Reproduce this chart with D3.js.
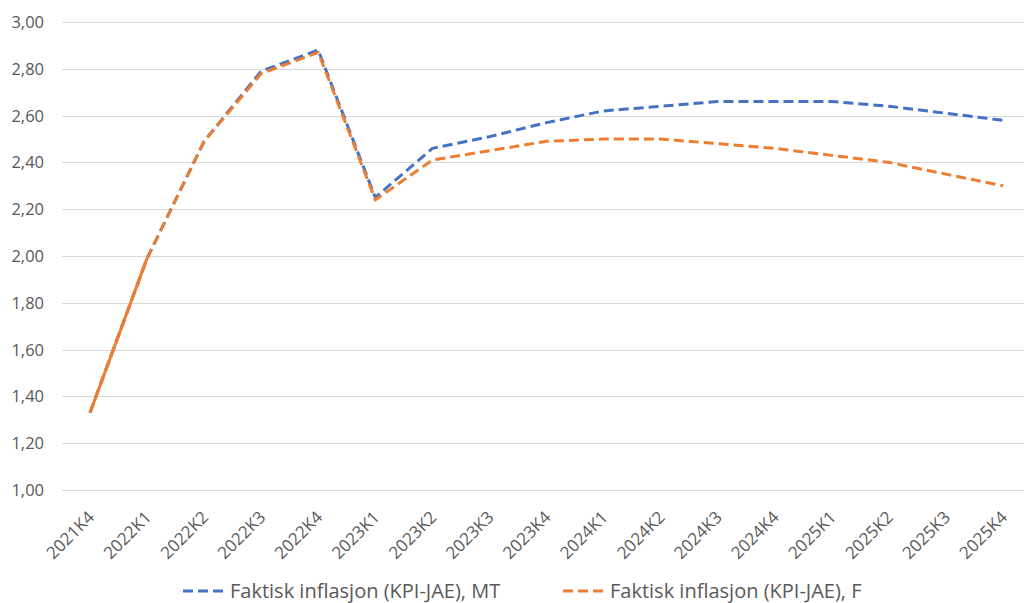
<!DOCTYPE html>
<html>
<head>
<meta charset="utf-8">
<script src="https://cdn.jsdelivr.net/npm/d3@7"></script>
<style>
  body { margin: 0; background: #fff; }
  text { font-family: "Open Sans", sans-serif; fill: #595959; }
</style>
</head>
<body>
<div id="chart"></div>
<script>
const quarters = ["2021K4", "2022K1", "2022K2", "2022K3", "2022K4", "2023K1", "2023K2", "2023K3", "2023K4",
    "2024K1", "2024K2", "2024K3", "2024K4", "2025K1", "2025K2", "2025K3", "2025K4"];
const seriesMT = [1.33, 1.99, 2.49, 2.79, 2.88, 2.25, 2.46, 2.51, 2.57, 2.62, 2.64, 2.66, 2.66, 2.66, 2.64, 2.61, 2.58];
const seriesF = [1.33, 1.99, 2.49, 2.78, 2.87, 2.24, 2.41, 2.45, 2.49, 2.50, 2.50, 2.48, 2.46, 2.43, 2.40, 2.35, 2.30];
const yTicks = [1.0, 1.2, 1.4, 1.6, 1.8, 2.0, 2.2, 2.4, 2.6, 2.8, 3.0];
const legendNames = ["Faktisk inflasjon (KPI-JAE), MT", "Faktisk inflasjon (KPI-JAE), F"];
const colors = ["#4472C4", "#ED7D31"];

const width = 1024, height = 603;
const svg = d3.select("#chart").append("svg")
    .attr("width", width)
    .attr("height", height);

const x = d3.scalePoint()
    .domain(quarters)
    .range([90, 1003]);

const y = d3.scaleLinear()
    .domain([1, 3])
    .range([490, 22]);

const fmt = d => d.toFixed(2).replace(".", ",");

// gridlines
svg.append("g")
    .selectAll("line")
    .data(yTicks)
    .enter().append("line")
    .attr("x1", 62)
    .attr("x2", 1031)
    .attr("y1", d => Math.round(y(d)) + 0.5)
    .attr("y2", d => Math.round(y(d)) + 0.5)
    .attr("stroke", "#d9d9d9")
    .attr("stroke-width", 1);

// y labels
svg.append("g")
    .selectAll("text")
    .data(yTicks)
    .enter().append("text")
    .attr("x", 44)
    .attr("y", d => y(d))
    .attr("dy", "0.36em")
    .attr("text-anchor", "end")
    .style("font-size", "16.5px")
    .text(fmt);

// x labels
svg.append("g")
    .selectAll("text")
    .data(quarters)
    .enter().append("text")
    .attr("transform", d => `translate(${x(d) + 1},${514}) rotate(-45)`)
    .attr("text-anchor", "end")
    .attr("dy", "0.36em")
    .style("font-size", "17px")
    .text(d => d);

const line = d3.line()
    .x((d, i) => x(quarters[i]))
    .y(d => y(d));

[seriesMT, seriesF].forEach((s, k) => {
    svg.append("path")
        .attr("d", line(s))
        .attr("fill", "none")
        .attr("stroke", colors[k])
        .attr("stroke-width", 3)
        .attr("stroke-linejoin", "round")
        .attr("stroke-dasharray", "10,5");
});

// first (actual) segment drawn solid
svg.append("path")
    .attr("d", line(seriesF.slice(0, 2)))
    .attr("fill", "none")
    .attr("stroke", colors[1])
    .attr("stroke-width", 3);

// legend
const legendX = [183, 563];
const legend = svg.append("g");
legendNames.forEach((name, k) => {
    const g = legend.append("g")
        .attr("transform", `translate(${legendX[k]},591)`);
    g.append("line")
        .attr("x1", 0)
        .attr("x2", 40)
        .attr("stroke", colors[k])
        .attr("stroke-width", 3)
        .attr("stroke-dasharray", "10,5");
    g.append("text")
        .attr("x", 47)
        .attr("dy", "0.36em")
        .style("font-size", "20px")
        .text(name);
});
</script>
</body>
</html>
